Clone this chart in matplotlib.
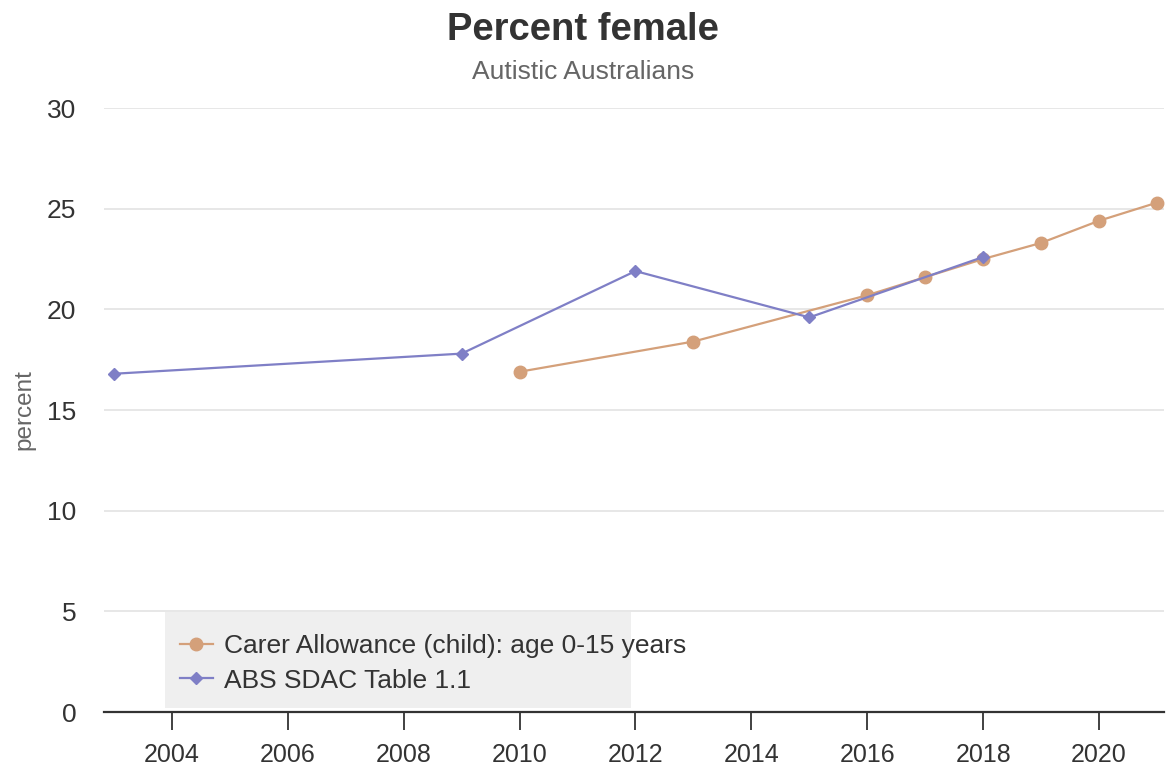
import matplotlib

matplotlib.use("Agg")
import matplotlib.pyplot as plt
from matplotlib.patches import Rectangle

# data
carer_years = [2010, 2013, 2016, 2017, 2018, 2019, 2020, 2021]
carer_pct = [16.9, 18.4, 20.7, 21.6, 22.5, 23.3, 24.4, 25.3]
sdac_years = [2003, 2009, 2012, 2015, 2018]
sdac_pct = [16.8, 17.8, 21.9, 19.6, 22.6]
x_ticks = [2004, 2006, 2008, 2010, 2012, 2014, 2016, 2018, 2020]
y_ticks = [0, 5, 10, 15, 20, 25, 30]

ORANGE = "#D4A07A"
PURPLE = "#7F7FC6"
TEXT = "#333333"

plt.rcParams["font.family"] = ["Liberation Sans", "DejaVu Sans"]

fig = plt.figure(figsize=(11.66, 7.69), dpi=100)
ax = fig.add_axes([104 / 1166, 57 / 769, 1060 / 1166, 604 / 769])

ax.plot(carer_years, carer_pct, color=ORANGE, lw=1.6, marker="o", ms=9,
        label="Carer Allowance (child): age 0-15 years", zorder=3)
ax.plot(sdac_years, sdac_pct, color=PURPLE, lw=1.6, marker="D", ms=6.5,
        label="ABS SDAC Table 1.1", zorder=4)

ax.set_xlim(2002.83, 2021.12)
ax.set_ylim(0, 30)
ax.set_xticks(x_ticks)
ax.set_yticks(y_ticks)
ax.grid(True, axis="y", color="#e3e3e3", lw=1.2)
ax.set_axisbelow(True)
for side in ("top", "right", "left"):
    ax.spines[side].set_visible(False)
ax.spines["bottom"].set_color(TEXT)
ax.spines["bottom"].set_linewidth(1.6)
ax.tick_params(axis="x", direction="out", length=13, width=1.3, color=TEXT,
               labelsize=18, labelcolor=TEXT, pad=9)
ax.tick_params(axis="y", length=0, labelsize=19, labelcolor=TEXT, pad=20)
ax.set_ylabel("percent", fontsize=17.5, color="#666666", labelpad=8)

# legend box is narrower than its text in the original
ax.add_patch(Rectangle((0.0575, 0.0066), 466 / 1060, 96 / 604, transform=ax.transAxes,
                       facecolor="#efefef", edgecolor="none", zorder=5))
leg = ax.legend(loc="lower left", bbox_to_anchor=(0.0717, 0.032), frameon=False,
                fontsize=19, handlelength=1.25, handletextpad=0.4, labelspacing=0.4,
                borderpad=0, borderaxespad=0, labelcolor=TEXT)
leg.set_zorder(6)

fig.text(0.5, 0.961, "Percent female", ha="center", va="center", fontsize=27.5,
         fontweight="bold", color=TEXT)
fig.text(0.5, 0.907, "Autistic Australians", ha="center", va="center", fontsize=19,
         color="#666666")

fig.savefig("out.png", dpi=100)
